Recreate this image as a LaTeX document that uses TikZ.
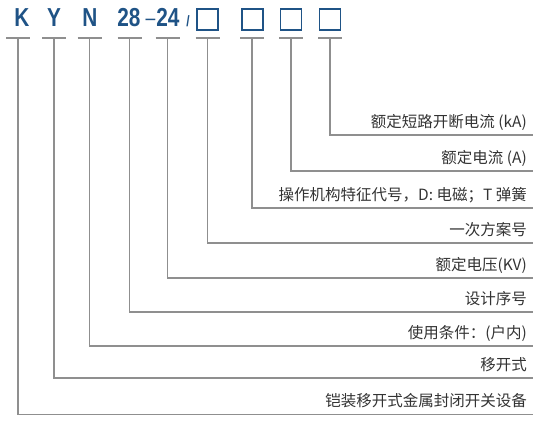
\documentclass[tikz,border=0pt]{standalone}
\usepackage{fontspec}
\setmainfont{Noto Sans CJK SC}
\newfontfamily\codefont{Liberation Sans}
\definecolor{codeblue}{HTML}{1F5386}
\definecolor{linegray}{HTML}{8F8F8F}
\definecolor{labgray}{HTML}{333333}
\begin{document}
\begin{tikzpicture}[x=1pt,y=-1pt,
  code/.style={inner sep=0pt,anchor=base,text=codeblue,font=\codefont\bfseries\fontsize{26}{26}\selectfont,xscale=0.8},
  codebox/.style={draw=codeblue,line width=1.7pt,minimum width=21pt,minimum height=21pt,inner sep=0pt},
  lab/.style={inner sep=0pt,anchor=base east,text=labgray,font=\fontsize{15.5}{16}\selectfont},
  conn/.style={draw=linegray,line width=1.5pt},
  bar/.style={draw=linegray,line width=1.5pt}]
\useasboundingbox (0,0) rectangle (539,423);
% code letters
\node[code] (cK) at (22,27) {K};
\node[code] (cY) at (54,27) {Y};
\node[code] (cN) at (90,27) {N};
\node[code] (c28) at (129,27) {28};
\node[code,font=\codefont\fontsize{22}{22}\selectfont] (cd) at (150.5,26) {–};
\node[code] (c24) at (168,27) {24};
\node[code,font=\codefont\bfseries\fontsize{15}{15}\selectfont] (csl) at (188,27) {/};
\node[codebox] (b1) at (207.5,19.5) {};
\node[codebox] (b2) at (252.5,19.5) {};
\node[codebox] (b3) at (291,19.5) {};
\node[codebox] (b4) at (330,19.5) {};
% top coordinates
\coordinate (tK) at (18,38);
\coordinate (tY) at (54,38);
\coordinate (tN) at (89.5,38);
\coordinate (t28) at (129.5,38);
\coordinate (t24) at (167.5,38);
\coordinate (t1) at (207.5,38);
\coordinate (t2) at (252,38);
\coordinate (t3) at (291,38);
\coordinate (t4) at (330,38);
% right ends
\coordinate (eK) at (533,414.5);
\coordinate (eY) at (533,378);
\coordinate (eN) at (533,346);
\coordinate (e28) at (533,312);
\coordinate (e24) at (533,278);
\coordinate (e1) at (533,243);
\coordinate (e2) at (533,208);
\coordinate (e3) at (533,171);
\coordinate (e4) at (533,135);
% bars and connectors
\foreach \n in {K,Y,N,28,24,1,2,3,4}{
  \draw[bar] ([xshift=-12pt]t\n) -- ([xshift=12pt]t\n);
  \draw[conn] (t\n) |- (e\n);
}
% labels
\node[lab] (lK) at (527,406.5) {铠装移开式金属封闭开关设备};
\node[lab] (lY) at (527,370) {移开式};
\node[lab] (lN) at (527,338) {使用条件：(户内)};
\node[lab] (l28) at (527,304) {设计序号};
\node[lab] (l24) at (527,270) {额定电压(KV)};
\node[lab] (l1) at (527,235) {一次方案号};
\node[lab] (l2) at (527,200) {操作机构特征代号，D: 电磁；T 弹簧};
\node[lab] (l3) at (527,163) {额定电流 (A)};
\node[lab] (l4) at (527,127) {额定短路开断电流 (kA)};
\end{tikzpicture}
\end{document}
